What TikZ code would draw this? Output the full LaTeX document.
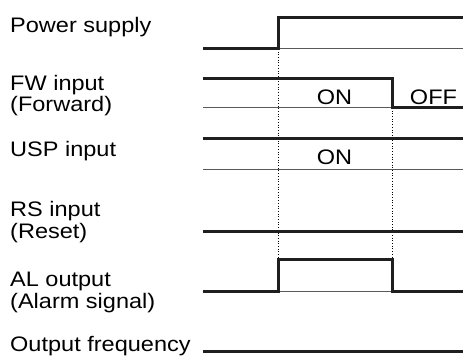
\documentclass[tikz,border=0pt]{standalone}
\usepackage{fontspec}
\setmainfont[FakeStretch=1.12]{Liberation Sans}

\begin{document}
\begin{tikzpicture}[x=1pt,y=-1pt,every node/.style={font=\fontsize{21}{21.2}\selectfont,inner sep=0pt},
  sig/.style={line width=3pt,black!88,line join=miter},
  base/.style={line width=1pt,black!65},
  guide/.style={line width=0.7pt,dotted}]
\useasboundingbox (0,0) rectangle (463,358);
% signal names (base = last line)
\node[anchor=base west,align=left] (pwr) at (10,32.3) {Power supply};
\node[anchor=base west,align=left] (fw) at (10,111.7) {FW input\\(Forward)};
\node[anchor=base west,align=left] (usp) at (10,156.7) {USP input};
\node[anchor=base west,align=left] (rs) at (10,238) {RS input\\(Reset)};
\node[anchor=base west,align=left] (al) at (10,308) {AL output\\(Alarm signal)};
\node[anchor=base west,align=left] (fout) at (10,351) {Output frequency};
% guides
\draw[guide] (278,49) -- (278,259);
\draw[guide] (392,108) -- (392,259);
% power supply
\draw[base] (278,49) -- (463,49);
\draw[sig] (203,49) -- (278,49) -- (278,18) -- (463,18);
% FW
\draw[base] (203,108) -- (392,108);
\draw[sig] (203,79) -- (392,79) -- (392,108) -- (463,108);
\node[anchor=base] (fwon) at (334.5,104.5) {ON};
\node[anchor=base] (fwoff) at (433.5,104.5) {OFF};
% USP
\draw[base] (203,170) -- (463,170);
\draw[sig] (203,139) -- (463,139);
\node[anchor=base] (uspon) at (334.5,164.5) {ON};
% RS
\draw[sig] (203,231) -- (463,231);
% AL
\draw[base] (278,291) -- (392,291);
\draw[sig] (203,291) -- (278,291) -- (278,259) -- (392,259) -- (392,291) -- (463,291);
% output frequency
\draw[sig] (203,351) -- (463,351);
\end{tikzpicture}
\end{document}
